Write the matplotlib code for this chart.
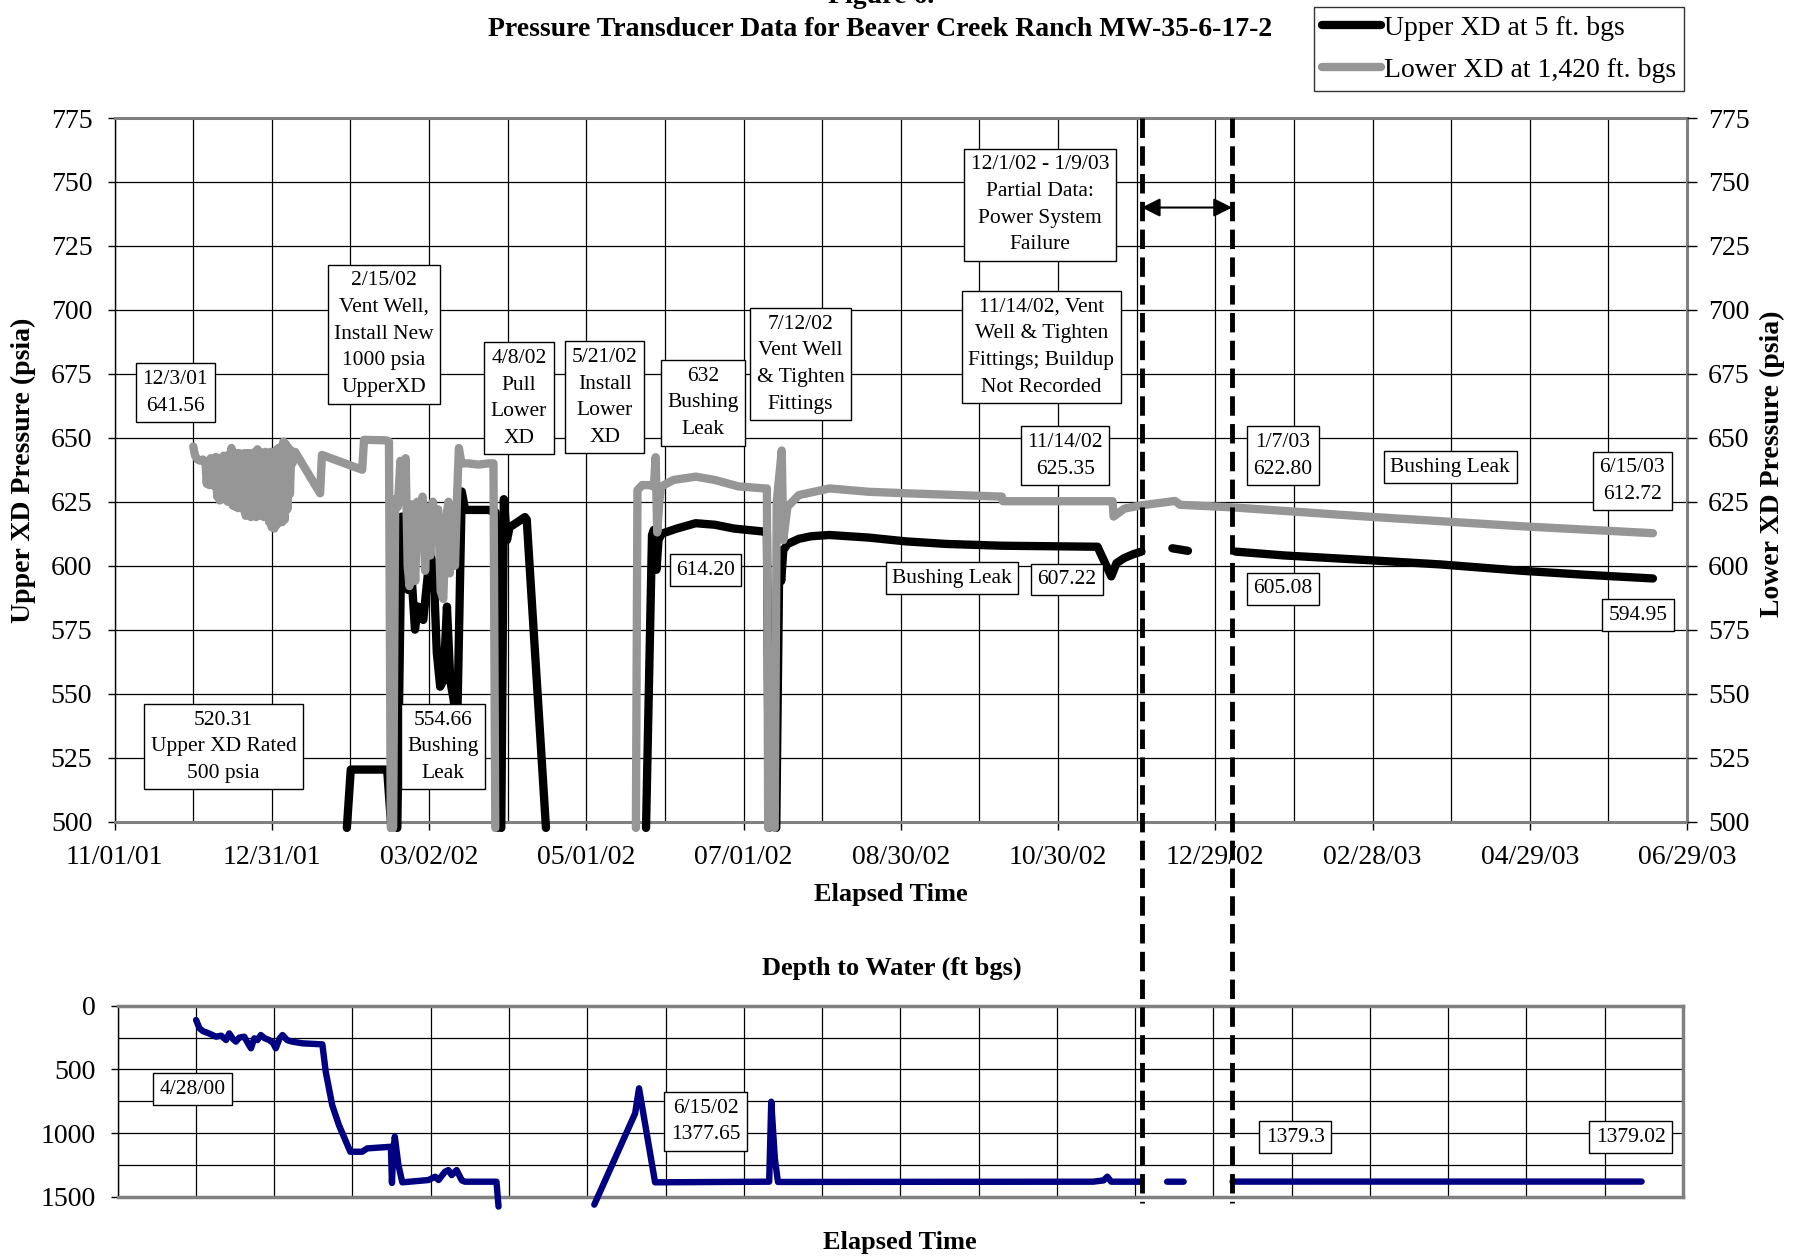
import numpy as np
import matplotlib
matplotlib.use('Agg')
import matplotlib.pyplot as plt
import matplotlib.dates as mdates
from matplotlib.lines import Line2D
from matplotlib import transforms

plt.rcParams['font.family'] = ['Liberation Serif', 'DejaVu Serif']
plt.rcParams['lines.scale_dashes'] = False

NaN = np.nan
START = '2001-11-01'
SPAN_DAYS = 605

# ---------------- data (elapsed days since 11/01/01) ----------------
upper_days = [89.4, 90.9, 104.9, 106.5, NaN,
              108.8, 110.5, 111.8, 113.0, 114.3, 115.6, 116.8, 118.8, 120.1, 121.4, 122.7,
              124.0, 125.3, 126.6, 127.9, 129.2, 130.5, 131.8, 133.6, 134.9, 143.8, 146.5, 147.2, NaN,
              148.8, 149.8, 151.0, 152.0, 155.0, 157.9, 158.6, 166.0, NaN,
              204.5, 206.8, 207.5, 208.5, 209.3, 210.5, 216.3, 223.6, 231.0, 238.4, 250.1, 251.0, 251.8, NaN,
              254.6, 255.8, 256.5, 257.3, 259.0, 263.3, 268.0, 275.0, 290.0, 304.5, 320.0, 341.4,
              360.0, 378.2, 383.5, 385.5, 388.5, 392.0, 395.1, NaN,
              407.0, 410.0, 413.0, NaN,
              431.3, 450.0, 481.7, 510.0, 541.5, 565.0, 591.9]
upper_psia = [497.5, 520.3, 520.3, 497.5, NaN,
              497.5, 619.2, 605.0, 590.5, 596.0, 575.0, 584.0, 578.8, 592.0, 605.0, 600.0,
              566.0, 552.7, 555.3, 584.0, 555.0, 547.5, 535.0, 629.0, 621.8, 621.8, 621.0, 497.5, NaN,
              497.5, 626.0, 610.0, 615.0, 617.0, 619.0, 618.0, 497.5, NaN,
              497.5, 612.0, 614.0, 598.4, 610.0, 612.5, 614.5, 616.6, 616.0, 614.5, 613.3, 613.3, 497.5, NaN,
              497.5, 606.0, 594.0, 606.0, 608.5, 610.5, 611.5, 612.0, 611.0, 609.5, 608.5, 607.8,
              607.6, 607.4, 595.8, 601.0, 603.0, 604.5, 605.5, NaN,
              606.8, 606.3, 605.8, NaN,
              605.5, 604.0, 602.2, 600.5, 598.0, 596.5, 595.0]

lower_days = [30.3, 31.0, 32.0, 33.0, 34.0, 35.0, 35.5, 36.0, 36.5, 37.0, 37.5, 38.0, 38.5, 39.0,
              39.5, 40.0, 40.5, 41.0, 41.5, 42.0, 42.5, 43.0, 43.5, 44.0, 44.5, 45.0, 45.5, 46.0,
              46.5, 47.0, 47.5, 48.0, 48.5, 49.0, 49.5, 50.0, 50.5, 51.0, 51.5, 52.0, 52.5, 53.0,
              53.5, 54.0, 54.5, 55.0, 55.5, 56.0, 56.5, 57.0, 57.5, 58.0, 58.5, 59.0, 59.5, 60.0,
              60.5, 61.0, 61.5, 62.0, 62.5, 63.0, 63.5, 64.0, 64.5, 65.0, 65.5, 66.0, 66.5, 67.0,
              67.5, 68.0, 68.5, 69.5, 79.1, 79.8, 95.3, 96.0, 104.5, 105.6, 106.3, NaN,
              107.2, 108.0, 109.0, 110.0, 111.0, 112.0, 112.8, 113.5, 114.3, 115.0, 115.7, 116.5,
              117.5, 118.5, 119.5, 120.5, 121.5, 122.5, 123.5, 124.5, 125.5, 126.5, 127.5, 128.5,
              129.0, 130.0, 131.0, 131.8, 132.5, 133.5, 136.0, 140.0, 144.0, 145.8, 146.5, NaN,
              200.6, 201.2, 203.0, 205.5, 207.5, 208.2, 208.8, 209.6, 210.3, 215.0, 223.6, 231.0,
              240.0, 250.0, 251.0, 251.5, NaN,
              254.0, 254.8, 256.7, 257.3, 258.9, 263.3, 275.1, 290.0, 304.5, 341.4, 341.8, 384.0,
              384.4, 388.5, 395.1, 408.0, 410.0, 430.0, 481.7, 541.5, 591.9]
lower_psia = [646.6, 643.0, 641.5, 641.0, 641.5, 640.5, 632.0, 641.0, 631.5, 642.0, 632.0, 641.0, 631.0, 642.5,
              627.0, 641.0, 625.5, 642.0, 627.0, 643.0, 626.0, 642.0, 625.0, 643.5, 626.0, 646.0, 623.5, 644.0,
              623.0, 644.0, 622.5, 644.0, 623.0, 643.5, 622.0, 644.0, 619.5, 644.0, 620.0, 644.0, 619.0, 644.0,
              619.5, 644.5, 619.0, 645.5, 620.0, 644.5, 619.5, 644.0, 619.0, 644.5, 619.5, 644.0, 617.0, 644.5,
              615.0, 644.0, 614.5, 645.0, 616.0, 646.0, 617.0, 646.5, 617.0, 648.5, 618.0, 647.5, 622.0, 646.0,
              628.0, 645.0, 640.0, 644.5, 628.3, 643.3, 637.5, 649.2, 649.0, 648.5, 497.5, NaN,
              497.5, 626.0, 623.0, 641.0, 625.0, 642.0, 600.0, 592.0, 624.0, 610.0, 594.0, 625.0,
              612.0, 627.0, 598.0, 623.0, 604.0, 625.0, 610.0, 622.0, 590.0, 587.0, 618.0, 625.0,
              597.0, 622.0, 600.0, 627.0, 646.0, 640.0, 640.0, 639.5, 640.0, 640.0, 497.5, NaN,
              497.5, 629.5, 631.5, 631.5, 631.0, 642.4, 613.0, 625.0, 630.9, 633.5, 634.8, 633.5,
              631.0, 630.2, 630.2, 497.5, NaN,
              497.5, 625.0, 645.0, 610.0, 623.0, 627.6, 630.2, 628.9, 628.3, 627.0, 625.2, 625.2,
              619.2, 622.3, 623.6, 625.3, 623.8, 622.8, 619.2, 615.4, 612.7]

depth_days = [30.3, 31.6, 33.0, 35.0, 38.0, 40.0, 41.9, 43.1, 44.5, 45.7, 47.0, 48.9, 50.5, 51.5,
              52.8, 54.0, 55.3, 56.8, 58.5, 60.0, 61.1, 62.5, 63.7, 65.5, 67.5, 71.4, 79.1, 80.4,
              82.9, 85.5, 89.9, 94.5, 96.4, 105.6, 106.0, 106.5, 107.1, 108.5, 110.0, 120.1, 122.7,
              124.0, 126.5, 127.8, 129.1, 131.0, 133.0, 134.2, 146.4, 147.2, NaN,
              184.2, 200.0, 201.5, 207.7, 251.8, 252.6, 254.0, 255.2, 377.0, 381.0, 382.5, 384.0, 395.1, NaN,
              405.6, 412.0, NaN,
              430.9, 589.0]
depth_ft = [112, 177, 200, 215, 243, 235, 269, 217, 260, 282, 250, 243, 300, 334,
            256, 270, 230, 255, 269, 290, 334, 260, 230, 270, 282, 295, 303, 517,
            779, 936, 1145, 1145, 1119, 1106, 1390, 1150, 1027, 1250, 1385, 1367, 1341,
            1367, 1302, 1289, 1328, 1289, 1370, 1380, 1380, 1575, NaN,
            1560, 844, 648, 1385, 1380, 753, 1200, 1382, 1380, 1370, 1341, 1380, 1380, NaN,
            1380, 1380, NaN,
            1379.3, 1379.0]

x_tick_labels = ['11/01/01', '12/31/01', '03/02/02', '05/01/02', '07/01/02', '08/30/02',
                 '10/30/02', '12/29/02', '02/28/03', '04/29/03', '06/29/03']
psia_ticks = [500, 525, 550, 575, 600, 625, 650, 675, 700, 725, 750, 775]
depth_ticks = [0, 500, 1000, 1500]

gap_days = [395.2, 430.0]   # 12/1/02 - 1/9/03 partial data window

# annotations: (text, day, value)
top_notes = [
    ('12/3/01\n641.56', 23.4, 667.6),
    ('2/15/02\nVent Well,\nInstall New\n1000 psia\nUpperXD', 103.6, 690.5),
    ('4/8/02\nPull\nLower\nXD', 155.6, 665.4),
    ('5/21/02\nInstall\nLower\nXD', 188.6, 665.8),
    ('632\nBushing\nLeak', 226.5, 663.6),
    ('7/12/02\nVent Well\n& Tighten\nFittings', 264.0, 678.8),
    ('12/1/02 - 1/9/03\nPartial Data:\nPower System\nFailure', 356.1, 741.1),
    ('11/14/02, Vent\nWell & Tighten\nFittings; Buildup\nNot Recorded', 356.6, 685.5),
    ('11/14/02\n625.35', 365.8, 643.0),
    ('1/7/03\n622.80', 449.5, 643.0),
    ('Bushing Leak', 513.9, 638.5),
    ('6/15/03\n612.72', 584.0, 633.1),
    ('614.20', 227.4, 598.2),
    ('Bushing Leak', 322.2, 595.1),
    ('607.22', 366.3, 594.6),
    ('605.08', 449.5, 591.0),
    ('594.95', 586.2, 580.7),
    ('520.31\nUpper XD Rated\n500 psia', 41.9, 529.2),
    ('554.66\nBushing\nLeak', 126.5, 529.2),
]
bottom_notes = [
    ('4/28/00', 28.9, 656),
    ('6/15/02\n1377.65', 227.2, 907),
    ('1379.3', 455.1, 1033),
    ('1379.02', 584.8, 1033),
]

# ---------------- helpers ----------------
t0 = mdates.date2num(np.datetime64(START))
def dn(days):
    return t0 + np.asarray(days, dtype=float)

W, H = 1796, 1259
fig = plt.figure(figsize=(W / 100, H / 100), dpi=100)

def fx(px):
    return px / W
def fy(py):
    return 1 - py / H

ax1 = fig.add_axes([fx(114.5), fy(821.5), fx(1687) - fx(114.5), fy(118) - fy(821.5)])
ax2 = fig.add_axes([fx(117.7), fy(1197), fx(1683) - fx(117.7), fy(1005.7) - fy(1197)])

TICK_FS = 20
BLACK = '#000000'
GRAY = '#969696'
NAVY = '#000080'
LW = 6

# ---------------- top chart ----------------
l_up, = ax1.plot(dn(upper_days), upper_psia, color=BLACK, lw=LW, solid_capstyle='round',
                 solid_joinstyle='round', clip_on=False, zorder=3, label='Upper XD at 5 ft. bgs')
l_lo, = ax1.plot(dn(lower_days), lower_psia, color=GRAY, lw=LW, solid_capstyle='round',
                 solid_joinstyle='round', clip_on=False, zorder=3.5, label='Lower XD at 1,420 ft. bgs')

ax1.set_xlim(dn(0), dn(SPAN_DAYS))
ax1.set_ylim(500, 775)
major = dn(np.arange(len(x_tick_labels)) * SPAN_DAYS / (len(x_tick_labels) - 1))
minor = dn(np.arange(2 * (len(x_tick_labels) - 1) + 1) * SPAN_DAYS / (2 * (len(x_tick_labels) - 1)))
ax1.set_xticks(major)
ax1.set_xticklabels(x_tick_labels)
ax1.set_yticks(psia_ticks)
for v in minor:
    ax1.axvline(v, color='black', lw=0.9, zorder=1)
for v in psia_ticks:
    ax1.axhline(v, color='black', lw=0.9, zorder=1)
ax1.tick_params(axis='x', direction='out', length=6, width=1, pad=11, labelsize=TICK_FS)
ax1.tick_params(axis='y', direction='out', length=5, width=1, pad=11, labelsize=TICK_FS)
for s in ['top', 'bottom']:
    ax1.spines[s].set_color('#808080')
    ax1.spines[s].set_linewidth(2.2)
ax1.spines['left'].set_color('black')
ax1.spines['left'].set_linewidth(1)
ax1.spines['right'].set_color('#808080')
ax1.spines['right'].set_linewidth(2.2)
ax1.set_facecolor('white')

axr = ax1.twinx()
axr.set_ylim(500, 775)
axr.set_yticks(psia_ticks)
axr.tick_params(axis='y', direction='out', length=7, width=1, pad=8, labelsize=TICK_FS)
for s in axr.spines.values():
    s.set_visible(False)

box = dict(boxstyle='square,pad=0.3', fc='white', ec='black', lw=1)
for txt, d, v in top_notes:
    ax1.text(dn(d), v, txt, ha='center', va='center', fontsize=15.5, linespacing=1.55,
             bbox=box, zorder=6)

ax1.annotate('', xy=(dn(gap_days[0]), 740), xytext=(dn(gap_days[1]), 740),
             arrowprops=dict(arrowstyle='<|-|>', color='black', lw=1.5, mutation_scale=28,
                             shrinkA=0, shrinkB=0), zorder=6)

# ---------------- bottom chart ----------------
ax2.plot(dn(depth_days), depth_ft, color=NAVY, lw=4.6, solid_capstyle='round',
         solid_joinstyle='round', clip_on=False, zorder=3)
ax2.set_xlim(dn(0), dn(SPAN_DAYS))
ax2.set_ylim(1500, 0)
ax2.set_yticks(depth_ticks)
ax2.set_xticks([])
for v in minor:
    ax2.axvline(v, color='black', lw=0.9, zorder=1)
for v in np.arange(0, 1501, 250):
    ax2.axhline(v, color='black', lw=0.9, zorder=1)
ax2.tick_params(axis='y', direction='out', length=5, width=1, pad=11, labelsize=TICK_FS)
for s in ['top', 'bottom', 'right']:
    ax2.spines[s].set_color('#808080')
    ax2.spines[s].set_linewidth(2.5)
ax2.spines['left'].set_linewidth(1)
for txt, d, v in bottom_notes:
    ax2.text(dn(d), v, txt, ha='center', va='center', fontsize=15.5, linespacing=1.55,
             bbox=box, zorder=6)

# ---------------- dashed gap markers spanning both charts ----------------
bt = transforms.blended_transform_factory(ax1.transData, fig.transFigure)
for d in gap_days:
    fig.add_artist(Line2D([dn(d), dn(d)], [fy(118), fy(1203)], transform=bt, color='black',
                          lw=3.5, linestyle=(0, (14, 6)), zorder=10))

# ---------------- titles, labels, legend ----------------
fig.text(fx(881), fy(3), 'Figure 6.', ha='center', va='baseline', fontsize=20, fontweight='bold')
fig.text(fx(880), fy(29), 'Pressure Transducer Data for Beaver Creek Ranch MW-35-6-17-2',
         ha='center', va='center', fontsize=20, fontweight='bold')
fig.text(fx(23), fy(470), 'Upper XD Pressure (psia)', rotation=90, ha='center', va='center',
         fontsize=20, fontweight='bold')
fig.text(fx(1772), fy(464), 'Lower XD Pressure (psia)', rotation=90, ha='center', va='center',
         fontsize=20, fontweight='bold')
fig.text(fx(891), fy(895), 'Elapsed Time', ha='center', va='center', fontsize=19, fontweight='bold')
fig.text(fx(892), fy(968), 'Depth to Water (ft bgs)', ha='center', va='center', fontsize=19,
         fontweight='bold')
fig.text(fx(900), fy(1243), 'Elapsed Time', ha='center', va='center', fontsize=19, fontweight='bold')

leg = fig.legend(handles=[l_up, l_lo], loc='upper right', bbox_to_anchor=(fx(1684), fy(7)),
                 bbox_transform=fig.transFigure, frameon=True, fancybox=False, fontsize=20,
                 handlelength=2.1, handletextpad=0.1, borderpad=0.3, labelspacing=0.6,
                 borderaxespad=0)
leg.get_frame().set_edgecolor('black')
leg.get_frame().set_linewidth(1)

fig.savefig('out.png', dpi=100, facecolor='white')
